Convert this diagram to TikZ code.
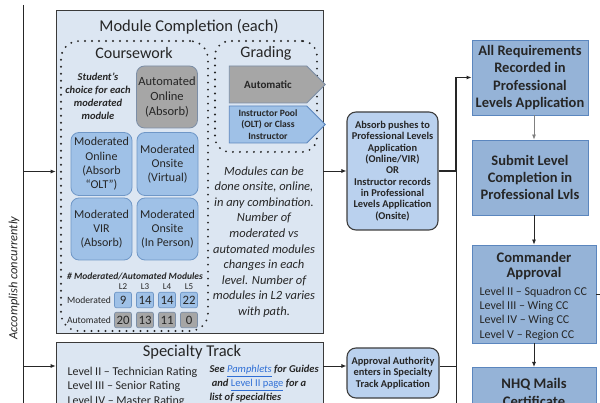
\documentclass[tikz,border=0pt]{standalone}
\usepackage{fontspec}
\setmainfont{Carlito}
\usetikzlibrary{arrows.meta,shapes.symbols}
\definecolor{ink}{HTML}{262626}
\definecolor{panel}{HTML}{DCE6F2}
\definecolor{panelline}{HTML}{3A3A3A}
\definecolor{modfill}{HTML}{9FC1E7}
\definecolor{modline}{HTML}{6F97C7}
\definecolor{autofill}{HTML}{A6A6A6}
\definecolor{autoline}{HTML}{7C8EA6}
\definecolor{flowfill}{HTML}{BAD1EE}
\definecolor{flowline}{HTML}{3F3F3F}
\definecolor{stepfill}{HTML}{95B3D7}
\definecolor{stepline}{HTML}{5B86BE}
\definecolor{linkblue}{HTML}{2F6FD6}
\newcommand\fsz[2]{\fontsize{#1}{#2}\selectfont}
\newcommand\linktext[1]{\textcolor{linkblue}{\underline{#1}}}

\begin{document}
\begin{tikzpicture}[x=1pt,y=-1pt,
  every node/.style={text=ink},
  panelbox/.style={draw=panelline,fill=panel,line width=0.7pt,inner sep=0pt},
  dotreg/.style={draw=ink,line width=2.1pt,line cap=round,dash pattern=on 0pt off 7pt,rounded corners=18pt,inner sep=0pt},
  modbox/.style={draw=modline,fill=modfill,line width=0.8pt,rounded corners=8pt,inner sep=0pt,align=center,font=\fsz{12}{14.3}},
  autobox/.style={modbox,fill=autofill,draw=autoline},
  cntbox/.style={draw=modline,fill=modfill,line width=0.7pt,rounded corners=2pt,minimum width=17,minimum height=15.5,inner sep=0pt,font=\fsz{12.8}{12}},
  cntgray/.style={cntbox,fill=autofill,draw=autoline},
  gradearrow/.style={signal,signal to=east,signal from=nowhere,signal pointer angle=90,line width=0.8pt,minimum width=96,minimum height=37,inner sep=0pt,align=center},
  flowbox/.style={draw=flowline,fill=flowfill,line width=1.1pt,rounded corners=9pt,align=center,inner sep=0pt,font=\bfseries\fsz{10.4}{11.3}},
  stepbox/.style={draw=stepline,fill=stepfill,line width=0.8pt,inner sep=0pt},
  conn/.style={draw=ink,line width=0.8pt},
  arr/.style={conn,-{Latex[length=5pt,width=4pt]}}
]
\clip (0,0) rectangle (600,403);
\fill[white] (0,0) rectangle (600,403);

% ---- Module completion panel ----
\node[panelbox,minimum width=267,minimum height=323] (mod) at (189.5,171.5) {};
\node[font=\fsz{16.5}{18}] (modtitle) at (189,27) {Module Completion (each)};

\node[dotreg,minimum width=147,minimum height=290] (cw) at (134.5,186) {};
\node[dotreg,minimum width=102,minimum height=111,rounded corners=15pt] (gr) at (266,96.5) {};
\node[font=\fsz{16}{18}] (cwtitle) at (134,53) {Coursework};
\node[font=\fsz{16}{18}] (grtitle) at (266,53) {Grading};

\node[font=\bfseries\itshape\fsz{10.5}{13},align=center] (choice) at (98,96)
  {Student's\\choice for each\\moderated\\module};

\node[autobox,minimum width=61,minimum height=62,font=\fsz{12.5}{14.8}] (auto) at (167,97)
  {Automated\\Online\\(Absorb)};
\node[modbox,minimum width=61,minimum height=63] (molt) at (101.5,164)
  {Moderated\\Online\\(Absorb\\“OLT”)};
\node[modbox,minimum width=61,minimum height=63] (mvirt) at (167.5,164)
  {Moderated\\Onsite\\(Virtual)};
\node[modbox,minimum width=61,minimum height=62] (mvir) at (101.5,229)
  {Moderated\\VIR\\(Absorb)};
\node[modbox,minimum width=61,minimum height=62] (mpers) at (167.5,229)
  {Moderated\\Onsite\\(In Person)};

% ---- module counts per level ----
\node[font=\bfseries\itshape\fsz{9.5}{11}] (cnthead) at (135,276) {\# Moderated/Automated Modules};
\foreach \lv/\xx in {2/123,3/145,4/167,5/189}
  \node[font=\fsz{9}{9}] (lv\lv) at (\xx,287) {L\lv};
\node[font=\fsz{9.6}{11}] (rowmod) at (89,300) {Moderated};
\node[font=\fsz{9.6}{11}] (rowaut) at (89,320) {Automated};
\foreach \n/\xx/\v in {2/123/9,3/145/14,4/167/14,5/189/22}
  \node[cntbox] (cm\n) at (\xx,300) {\v};
\foreach \n/\xx/\v in {2/123/20,3/145/13,4/167/11,5/189/0}
  \node[cntgray] (ca\n) at (\xx,320) {\v};

% ---- grading ----
\node[gradearrow,draw=autoline,fill=autofill,font=\bfseries\fsz{11}{12}] (gauto) at (268,84.5) {Automatic};
\node[gradearrow,draw=stepline,fill=modfill,font=\bfseries\fsz{9.6}{11.7}] (ginst) at (268,124.5)
  {Instructor Pool\\(OLT) or Class\\Instructor};

\node[font=\itshape\fsz{12.5}{15.6},align=center] (note) at (264,242)
  {Modules can be\\done onsite, online,\\in any combination.\\Number of\\moderated vs\\automated modules\\changes in each\\level. Number of\\modules in L2 varies\\with path.};

% ---- specialty track panel ----
\node[panelbox,minimum width=267,minimum height=76] (spec) at (189.5,380) {};
\node[font=\fsz{16.5}{18}] (spectitle) at (192,352) {Specialty Track};
\node[font=\fsz{12}{14.5},align=left,anchor=north west] (speclv) at (64,363.5)
  {Level II – Technician Rating\\Level III – Senior Rating\\Level IV – Master Rating};
\node[font=\bfseries\itshape\fsz{10.5}{14},align=left,anchor=north west] (specsee) at (206,362)
  {See \linktext{\mdseries Pamphlets} for Guides\\\ and \linktext{\mdseries\upshape Level II page} for a\\list of specialties};

% ---- recording steps ----
\node[flowbox,minimum width=91,minimum height=118] (absb) at (392.5,171)
  {Absorb pushes to\\Professional Levels\\Application\\(Online/VIR)\\OR\\Instructor records\\in Professional\\Levels Application\\(Onsite)};
\node[flowbox,minimum width=92,minimum height=50] (appr) at (393,373)
  {Approval Authority\\enters in Specialty\\Track Application};

% ---- right column ----
\node[stepbox,minimum width=116,minimum height=75,align=center,font=\bfseries\fsz{14.5}{17.4}] (req) at (530,77.5)
  {All Requirements\\Recorded in\\Professional\\Levels Application};
\node[stepbox,minimum width=116,minimum height=75,align=center,font=\bfseries\fsz{14.5}{17}] (sub) at (530,177.5)
  {Submit Level\\Completion in\\Professional Lvls};
\node[stepbox,minimum width=124,minimum height=98] (cmd) at (534,294) {};
\node[font=\bfseries\fsz{14.6}{14.5},align=center] (cmdtitle) at (534,266) {Commander\\Approval};
\node[font=\fsz{12}{14.3},align=left,anchor=west] (cmdlv) at (476,313.5)
  {Level II – Squadron CC\\Level III – Wing CC\\Level IV – Wing CC\\Level V – Region CC};
\node[stepbox,minimum width=124,minimum height=66,align=center,anchor=north,font=\bfseries\fsz{14.6}{18}] (nhq) at (534,367)
  {\rule{0pt}{12pt}NHQ Mails\\Certificate\\ };

% ---- left rail ----
\coordinate (railtop) at (23,5);
\coordinate (railbot) at (23,403);
\node[rotate=90,font=\itshape\fsz{12.5}{14}] (concur) at (14,278) {Accomplish concurrently};
\draw[conn] (railtop) -- (railbot);
\draw[arr] (railtop |- mod.center) -- (mod.west |- mod.center);
\coordinate (specin) at (23,366);
\draw[arr] (specin) -- (spec.west |- specin);

% ---- flow connectors ----
\coordinate (jx) at (456,0);
\coordinate (jbot) at (456,403);
\draw[arr] (mod.east |- absb.west) -- (absb.west);
\draw[arr] (spec.east |- specin) -- (appr.west |- specin);
\draw[conn,line width=1.3pt] (absb.east) -| (jx |- req.west);
\draw[arr,line width=1.3pt] (jx |- req.west) -- (req.west);
\draw[conn] (appr.east |- specin) -- (jx |- specin);
\draw[conn] (jbot) -- (jx |- absb.east);
\draw[arr,draw=gray] (req.south -| cmd.north) -- (sub.north -| cmd.north);
\draw[arr] (sub.south -| cmd.north) -- (cmd.north);
\draw[arr] (cmd.south) -- (nhq.north);
\coordinate (cmdout) at (600,294);
\draw[conn] (cmd.east) -- (cmdout);
\end{tikzpicture}
\end{document}
